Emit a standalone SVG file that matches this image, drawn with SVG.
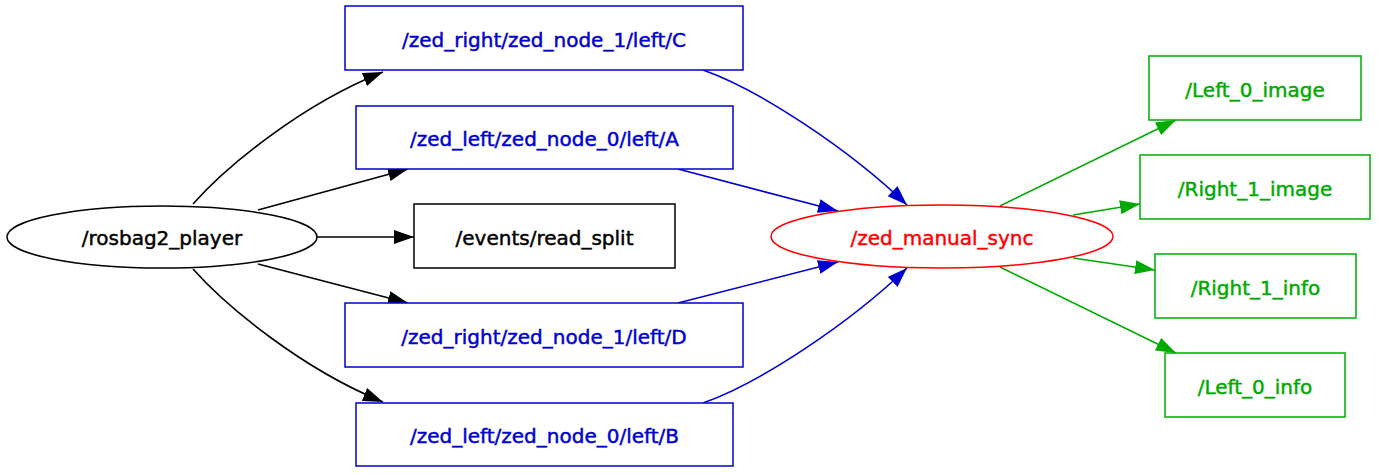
<svg xmlns="http://www.w3.org/2000/svg" width="1382" height="474" viewBox="0 0 1382 474">
<style>
text{font-family:"DejaVu Sans",sans-serif;font-size:20px;text-anchor:middle;stroke-width:0.45}
.k{stroke:#000;fill:none;stroke-width:1.6}
.b{stroke:#0000cc;fill:none;stroke-width:1.6}
.g{stroke:#00aa00;fill:none;stroke-width:1.6}
.nk rect,.nk ellipse{fill:#fff;stroke:#000;stroke-width:1.5}
.nb rect{fill:#fff;stroke:#0000cc;stroke-width:1.5}
.ng rect{fill:#fff;stroke:#00aa00;stroke-width:1.5}
.nr ellipse{fill:#fff;stroke:#ff0000;stroke-width:1.5}
.nk text{fill:#000;stroke:#000}.nb text{fill:#0000cc;stroke:#0000cc}.ng text{fill:#00aa00;stroke:#00aa00}.nr text{fill:#ff0000;stroke:#ff0000}
</style>
<defs>
<marker id="ak" markerUnits="userSpaceOnUse" markerWidth="22" markerHeight="16" refX="20" refY="7" orient="auto"><path d="M0,0 L20,7 L0,14 z" fill="#000"/></marker>
<marker id="ab" markerUnits="userSpaceOnUse" markerWidth="22" markerHeight="16" refX="20" refY="7" orient="auto"><path d="M0,0 L20,7 L0,14 z" fill="#0000cc"/></marker>
<marker id="ag" markerUnits="userSpaceOnUse" markerWidth="22" markerHeight="16" refX="20" refY="7" orient="auto"><path d="M0,0 L20,7 L0,14 z" fill="#00aa00"/></marker>
</defs>
<rect width="1382" height="474" fill="#fff"/>
<g id="edges">
<path class="k" marker-end="url(#ak)" d="M193,204 C225,168 300,105 383,72"/>
<path class="k" marker-end="url(#ak)" d="M258,210 L408,169"/>
<path class="k" marker-end="url(#ak)" d="M317,237 L414,237"/>
<path class="k" marker-end="url(#ak)" d="M258,264 L408,303"/>
<path class="k" marker-end="url(#ak)" d="M193,269 C225,305 300,368 383,402"/>
<path class="b" marker-end="url(#ab)" d="M703,70 C760,90 850,150 907,205"/>
<path class="b" marker-end="url(#ab)" d="M678,169 L838,211"/>
<path class="b" marker-end="url(#ab)" d="M678,303 L838,262"/>
<path class="b" marker-end="url(#ab)" d="M703,403 C760,383 850,323 907,268"/>
<path class="g" marker-end="url(#ag)" d="M1000,206 L1176,120"/>
<path class="g" marker-end="url(#ag)" d="M1073,215 L1140,204"/>
<path class="g" marker-end="url(#ag)" d="M1073,258 L1155,270"/>
<path class="g" marker-end="url(#ag)" d="M1000,267 L1176,353"/>
</g>
<g id="rosbag2_player" class="nk"><ellipse cx="162" cy="237" rx="155" ry="31"/><text x="162" y="244.5">/rosbag2_player</text></g>
<g id="zed_right_C" class="nb"><rect x="345" y="6" width="398" height="64"/><text x="544" y="46.5">/zed_right/zed_node_1/left/C</text></g>
<g id="zed_left_A" class="nb"><rect x="356" y="106" width="377" height="63"/><text x="544.5" y="145.5">/zed_left/zed_node_0/left/A</text></g>
<g id="events_read_split" class="nk"><rect x="414" y="204" width="261" height="64"/><text x="544.5" y="244.5">/events/read_split</text></g>
<g id="zed_right_D" class="nb"><rect x="345" y="303" width="398" height="64"/><text x="544" y="343.5">/zed_right/zed_node_1/left/D</text></g>
<g id="zed_left_B" class="nb"><rect x="356" y="403" width="377" height="63"/><text x="544.5" y="442.5">/zed_left/zed_node_0/left/B</text></g>
<g id="zed_manual_sync" class="nr"><ellipse cx="942" cy="236.5" rx="171" ry="31.5"/><text x="942" y="244.5">/zed_manual_sync</text></g>
<g id="Left_0_image" class="ng"><rect x="1149" y="56" width="212" height="64"/><text x="1255" y="96.5">/Left_0_image</text></g>
<g id="Right_1_image" class="ng"><rect x="1140" y="155" width="230" height="64"/><text x="1255" y="195.5">/Right_1_image</text></g>
<g id="Right_1_info" class="ng"><rect x="1155" y="254" width="201" height="64"/><text x="1255.5" y="294.5">/Right_1_info</text></g>
<g id="Left_0_info" class="ng"><rect x="1165" y="353" width="180" height="64"/><text x="1255" y="393.5">/Left_0_info</text></g>
</svg>
